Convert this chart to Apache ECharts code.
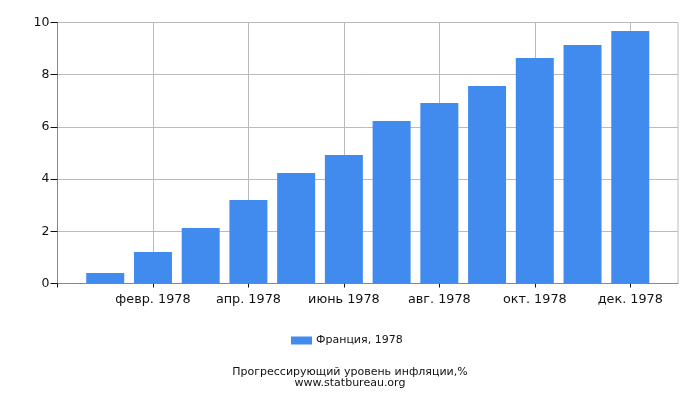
<!DOCTYPE html>
<html>
<head>
<meta charset="utf-8">
<script src="https://cdn.jsdelivr.net/npm/echarts@6/dist/echarts.min.js"></script>
<style>
html, body { margin: 0; padding: 0; background: #fff; }
#chart { width: 700px; height: 400px; }
</style>
</head>
<body>
<div id="chart"></div>
<script>
// категории: пустые края + 12 месяцев
var months = ['', 'янв. 1978', 'февр. 1978', 'март 1978', 'апр. 1978', 'май 1978', 'июнь 1978',
    'июль 1978', 'авг. 1978', 'сент. 1978', 'окт. 1978', 'нояб. 1978', 'дек. 1978', ''];
var values = [null, 0.40, 1.21, 2.13, 3.20, 4.23, 4.92, 6.23, 6.92, 7.57, 8.64, 9.14, 9.67, null];
var seriesName = 'Франция, 1978';
var titleText = 'Прогрессирующий уровень инфляции,%\nwww.statbureau.org';

var myChart = echarts.init(document.getElementById('chart'));
var font = 'DejaVu Sans';

var option = {
    animation: false,
    textStyle: { fontFamily: font },
    title: {
        text: titleText,
        left: 'center',
        top: 362,
        textStyle: { fontSize: 11, fontWeight: 'normal', color: '#111', lineHeight: 11, fontFamily: font }
    },
    legend: {
        data: [seriesName],
        left: 291,
        top: 335,
        padding: 0,
        icon: 'rect',
        itemWidth: 21,
        itemHeight: 8,
        itemGap: 5,
        textStyle: { fontSize: 11, color: '#111', fontFamily: font, padding: [0, 0, 0, -1] }
    },
    grid: {
        left: 57.5,
        top: 22.5,
        right: 22,
        bottom: 116.5,
        show: true,
        borderColor: '#bbb',
        borderWidth: 1
    },
    xAxis: {
        type: 'category',
        data: months,
        boundaryGap: false,
        axisLine: { lineStyle: { color: '#888' } },
        axisTick: {
            length: 4,
            interval: function(i) { return i % 2 == 0 && i < 13; },
            lineStyle: { color: '#111' }
        },
        axisLabel: {
            interval: function(i) { return i % 2 == 0 && i > 0 && i < 13; },
            fontSize: 12.8,
            color: '#111',
            margin: 10,
            fontFamily: font
        },
        splitLine: {
            show: true,
            interval: function(i) { return i % 2 == 0 && i < 13; },
            lineStyle: { color: '#bbb' }
        }
    },
    yAxis: {
        type: 'value',
        min: 0,
        max: 10,
        interval: 2,
        axisLine: { show: true, lineStyle: { color: '#888' } },
        axisTick: { show: true, length: 7, lineStyle: { color: '#111' } },
        axisLabel: { fontSize: 12.5, color: '#111', margin: 8, fontFamily: font },
        splitLine: { lineStyle: { color: '#bbb' } }
    },
    series: [{
        name: seriesName,
        type: 'bar',
        data: values,
        barWidth: 38,
        itemStyle: { color: '#418bee' }
    }]
};
myChart.setOption(option);
</script>
</body>
</html>
